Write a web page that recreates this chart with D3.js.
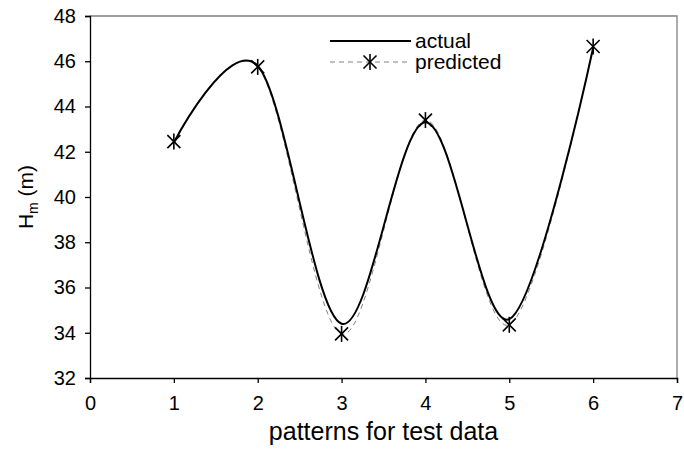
<!DOCTYPE html>
<html>
<head>
<meta charset="UTF-8">
<style>
  body { margin: 0; background: #fff; }
  text { font-family: "Liberation Sans", Arial, sans-serif; fill: #000; }
  .axis path, .axis line { stroke: #000; stroke-width: 1.3; }
  .axis text { font-size: 20px; }
</style>
<script src="https://cdn.jsdelivr.net/npm/d3@7"></script>
</head>
<body>
<svg id="chart"></svg>
<script>
// patterns 1..6
var patterns = [1, 2, 3, 4, 5, 6];
var actual = [42.4, 45.8, 34.4, 43.3, 34.6, 46.6];
var predicted = [42.45, 45.75, 33.95, 43.4, 34.35, 46.65];
var xTicks = [0, 1, 2, 3, 4, 5, 6, 7];
var yTicks = [32, 34, 36, 38, 40, 42, 44, 46, 48];

var width = 684, height = 450;
var margin = {top: 16, right: 7, bottom: 72, left: 90};

var svg = d3.select('#chart')
  .attr('width', width)
  .attr('height', height);

var x = d3.scaleLinear().domain([0, 7]).range([margin.left, width - margin.right]);
var y = d3.scaleLinear().domain([32, 48]).range([height - margin.bottom, margin.top]);

// plot area frame (top/right in gray)
svg.append('path')
  .attr('d', 'M' + x(0) + ',' + y(48) + 'H' + x(7) + 'V' + y(32))
  .attr('fill', 'none')
  .attr('stroke', '#808080')
  .attr('stroke-width', 1.3);

svg.append('g')
  .attr('class', 'axis')
  .attr('transform', 'translate(0,' + y(32) + ')')
  .call(d3.axisBottom(x).tickValues(xTicks).tickFormat(d3.format('d')).tickSize(5).tickSizeOuter(5).tickPadding(13));

svg.append('g')
  .attr('class', 'axis')
  .attr('transform', 'translate(' + x(0) + ',0)')
  .call(d3.axisLeft(y).tickValues(yTicks).tickFormat(d3.format('d')).tickSize(5).tickSizeOuter(5).tickPadding(9));

var curve = d3.curveCardinal.tension(0);

var line = d3.line()
  .x(function(d, i) { return x(patterns[i]); })
  .y(function(d) { return y(d); })
  .curve(curve);

svg.append('path')
  .datum(predicted)
  .attr('d', line)
  .attr('fill', 'none')
  .attr('stroke', '#808080')
  .attr('stroke-width', 1)
  .attr('stroke-dasharray', '5,4');

svg.append('path')
  .datum(actual)
  .attr('d', line)
  .attr('fill', 'none')
  .attr('stroke', '#000')
  .attr('stroke-width', 2);

function star(g) {
  g.append('line').attr('x1', -6.5).attr('y1', -6.5).attr('x2', 6.5).attr('y2', 6.5);
  g.append('line').attr('x1', -6.5).attr('y1', 6.5).attr('x2', 6.5).attr('y2', -6.5);
  g.append('line').attr('x1', 0).attr('y1', -8).attr('x2', 0).attr('y2', 8);
  g.attr('stroke', '#000').attr('stroke-width', 1.6);
}

svg.selectAll('.marker')
  .data(predicted)
  .enter()
  .append('g')
  .attr('class', 'marker')
  .attr('transform', function(d, i) { return 'translate(' + x(patterns[i]) + ',' + y(d) + ')'; })
  .each(function() { star(d3.select(this)); });

// axis titles
svg.append('text')
  .attr('x', (x(0) + x(7)) / 2)
  .attr('y', 440)
  .attr('text-anchor', 'middle')
  .style('font-size', '25px')
  .text('patterns for test data');

var yt = svg.append('text')
  .attr('transform', 'translate(33,' + ((y(32) + y(48)) / 2) + ') rotate(-90)')
  .attr('text-anchor', 'middle')
  .style('font-size', '21px');
yt.append('tspan').text('H');
yt.append('tspan').attr('dy', 5).style('font-size', '14px').text('m');
yt.append('tspan').attr('dy', -5).text(' (m)');

// legend
var legend = svg.append('g').attr('transform', 'translate(330,41)');
legend.append('line').attr('x1', 0).attr('x2', 81).attr('y1', 0).attr('y2', 0)
  .attr('stroke', '#000').attr('stroke-width', 2);
legend.append('text').attr('x', 85).attr('y', 7).style('font-size', '21px').text('actual');
legend.append('line').attr('x1', 0).attr('x2', 81).attr('y1', 21).attr('y2', 21)
  .attr('stroke', '#808080').attr('stroke-width', 1).attr('stroke-dasharray', '5,4');
legend.append('g').attr('transform', 'translate(40,21)').call(star);
legend.append('text').attr('x', 85).attr('y', 28).style('font-size', '21px').text('predicted');
</script>
</body>
</html>
